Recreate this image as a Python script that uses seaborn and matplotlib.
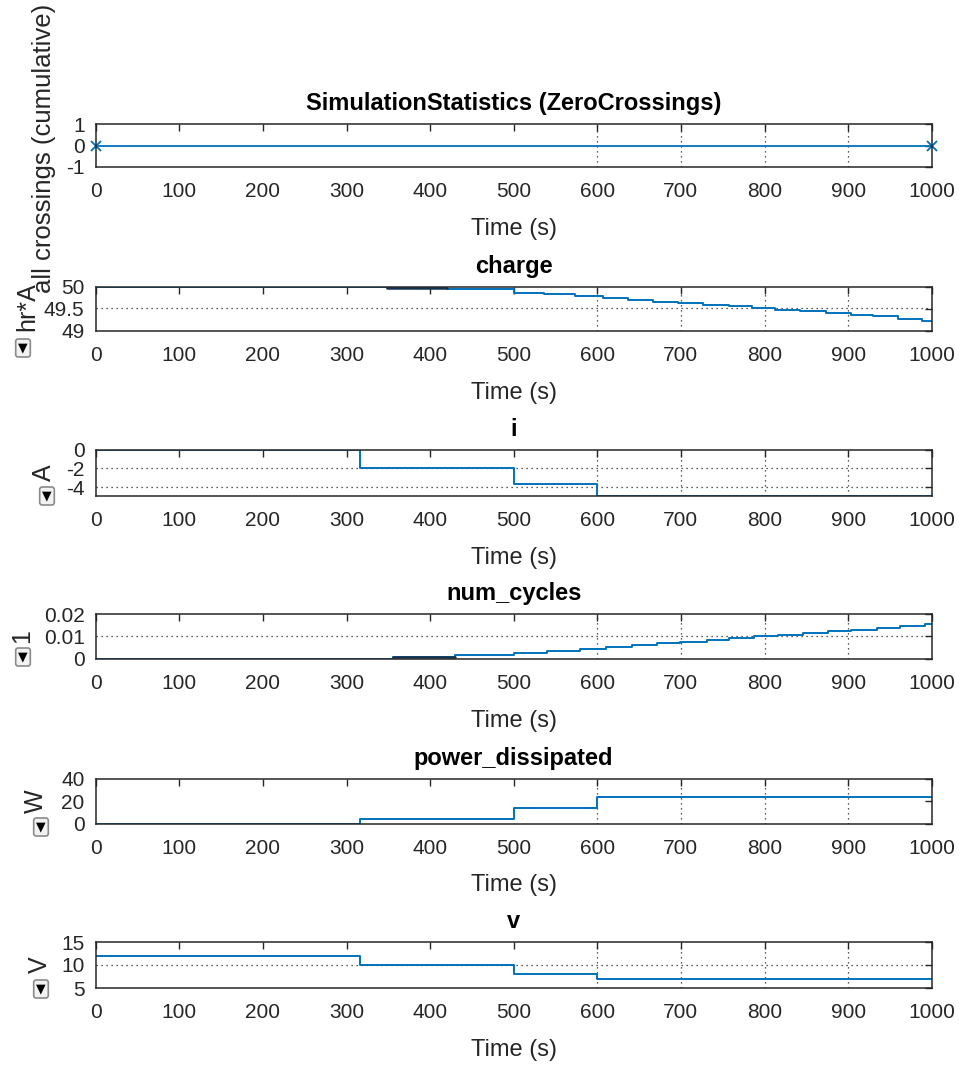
import matplotlib
matplotlib.use("Agg")
import matplotlib.pyplot as plt
import seaborn as sns
import pandas as pd

# ---------------- data ----------------
time_ticks = [0, 100, 200, 300, 400, 500, 600, 700, 800, 900, 1000]

zc_t = [0, 1000]
zc_v = [0, 0]

charge_t = [0, 348, 420, 500, 536, 573, 607, 637, 667, 697, 727, 757, 785,
            812, 843, 873, 903, 930, 960, 988, 1000]
charge_v = [50.0, 49.985, 49.945, 49.87, 49.83, 49.79, 49.76, 49.71, 49.67,
            49.63, 49.60, 49.56, 49.52, 49.48, 49.45, 49.41, 49.37, 49.33,
            49.28, 49.23, 49.23]
charge_dark_t = [348, 420]
charge_dark_v = [49.985, 49.985]

i_t = [0, 316, 500, 600, 1000]
i_v = [0, -2, -3.6, -4.9, -4.9]

nc_t = [0, 356, 430, 500, 540, 579, 611, 641, 671, 699, 731, 758, 788, 816,
        846, 876, 904, 934, 962, 992, 1000]
nc_v = [0, 0.0007, 0.0015, 0.0023, 0.0032, 0.0041, 0.005, 0.006, 0.0069,
        0.0076, 0.0085, 0.0093, 0.0101, 0.0107, 0.0113, 0.0122, 0.013,
        0.0139, 0.0147, 0.0155, 0.0155]
nc_dark_t = [356, 430]
nc_dark_v = [0.0007, 0.0007]

p_t = [0, 316, 500, 600, 1000]
p_v = [0, 4, 14, 24, 24]

v_t = [0, 316, 500, 600, 1000]
v_v = [12, 10, 8, 7, 7]

titles = ["SimulationStatistics (ZeroCrossings)", "charge", "i", "num_cycles",
          "power_dissipated", "v"]
ylabels = ["all crossings (cumulative)", "hr*A", "A", "1", "W", "V"]
yticks = [[-1, 0, 1], [49, 49.5, 50], [-4, -2, 0], [0, 0.01, 0.02],
          [0, 20, 40], [5, 10, 15]]
yticklabels = [["-1", "0", "1"], ["49", "49.5", "50"], ["-4", "-2", "0"],
               ["0", "0.01", "0.02"], ["0", "20", "40"], ["5", "10", "15"]]
ylims = [(-1, 1), (49, 50), (-4.9, 0), (0, 0.02), (0, 40), (5, 15)]
grid_x = [600, 700, 800, 900]
grid_y = [[], [49.52], [-2, -4], [0.01], [], [10]]

# ---------------- style ----------------
sns.set_theme(style="white")
plt.rcParams["font.family"] = ["Liberation Sans", "DejaVu Sans"]

W, H = 959, 1066
fig = plt.figure(figsize=(W / 100, H / 100), dpi=100)

LEFT, RIGHT = 95.7, 931.7
# (top, bottom) of each axes in pixels
boxes = [(124, 167), (287, 331), (449.5, 496), (614, 658.5), (779, 823.5), (942, 988)]
ylab_x = [44, 27, 44, 22, 36, 40]
ylab_y = [0.43, 0.55, 0.5, 0.5, 0.5, 0.5]
ylab_fs = [18.5, 18, 18, 18, 18, 18]
icons = [None, (23, 348), (47, 496), (23, 657), (41, 827), (41, 989)]

BLUE = "#0072BD"
DARK = "#262626"

series = [(zc_t, zc_v), (charge_t, charge_v), (i_t, i_v), (nc_t, nc_v),
          (p_t, p_v), (v_t, v_v)]
darks = [None, (charge_dark_t, charge_dark_v), None, (nc_dark_t, nc_dark_v), None, None]

for k in range(6):
    top, bot = boxes[k]
    hpx = bot - top
    ax = fig.add_axes([LEFT / W, 1 - bot / H, (RIGHT - LEFT) / W, hpx / H])
    t, y = series[k]
    df = pd.DataFrame({"t": t, "y": y})
    if k == 0:
        sns.lineplot(data=df, x="t", y="y", ax=ax, color=BLUE, lw=1.3,
                     marker="x", markersize=7, markeredgewidth=1.3,
                     markeredgecolor=BLUE, estimator=None, clip_on=False)
    else:
        sns.lineplot(data=df, x="t", y="y", ax=ax, color=BLUE, lw=1.4,
                     drawstyle="steps-post", estimator=None)
    if darks[k] is not None:
        dt, dv = darks[k]
        sns.lineplot(x=dt, y=dv, ax=ax, color="#16324f", lw=1.8, estimator=None)
    for gx in grid_x:
        ax.axvline(gx, ls=(0, (1, 3)), color=DARK, lw=0.9, zorder=0)
    for gy in grid_y[k]:
        ax.axhline(gy, ls=(0, (1, 3)), color=DARK, lw=0.9, zorder=0)

    ax.set_xlim(0, 1000)
    ax.set_ylim(*ylims[k])
    ax.set_xticks(time_ticks)
    ax.set_xticklabels([str(v) for v in time_ticks])
    ax.set_yticks(yticks[k])
    ax.set_yticklabels(yticklabels[k])
    ax.tick_params(direction="in", length=5, width=1.0, top=True, right=True,
                   labelsize=15, colors=DARK, labelcolor=DARK)
    ax.tick_params(axis="x", pad=11)
    ax.tick_params(axis="y", pad=8)
    for s in ax.spines.values():
        s.set_color(DARK)
        s.set_linewidth(1.1)
        s.set_visible(True)

    ax.set_title(titles[k], fontsize=17, fontweight="bold", pad=10, color="black")
    ax.set_xlabel("Time (s)", fontsize=17, color=DARK, va="center")
    ax.xaxis.set_label_coords(0.5, -62 / hpx)
    ax.set_ylabel(ylabels[k], fontsize=ylab_fs[k], color=DARK, va="center")
    ax.yaxis.set_label_coords((ylab_x[k] - LEFT) / (RIGHT - LEFT), ylab_y[k])

    if icons[k] is not None:
        ix, iy = icons[k]
        fig.text(ix / W, 1 - iy / H, "\u25bc", ha="center", va="center",
                 fontsize=9, family="DejaVu Sans", color="black",
                 bbox=dict(boxstyle="round,pad=0.2", fc="#f2f2f2", ec="#8a8a8a", lw=1.2))

fig.savefig("out.png", dpi=100)
